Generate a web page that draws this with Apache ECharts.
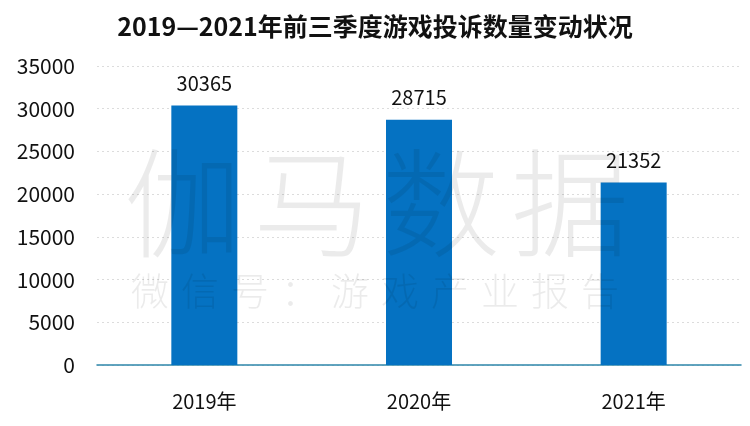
<!DOCTYPE html>
<html>
<head>
<meta charset="utf-8">
<script src="https://cdn.jsdelivr.net/npm/echarts@6/dist/echarts.min.js"></script>
<style>html,body{margin:0;padding:0;background:#fff}#c{width:750px;height:426px}</style>
</head>
<body>
<div id="c"></div>
<script>
const categories = ['2019年', '2020年', '2021年'];
const complaints = [30365, 28715, 21352];
const yTicks = [0, 5000, 10000, 15000, 20000, 25000, 30000, 35000];
const titleText = '2019—2021年前三季度游戏投诉数量变动状况';
const watermarkBig = ['伽', '马', '数', '据'];
const watermarkSmall = ['微', '信', '号', '：', '游', '戏', '产', '业', '报', '告'];

const FONT = '"Noto Sans CJK SC", "Noto Sans", sans-serif';
const chart = echarts.init(document.getElementById('c'));

const graphics = [];
watermarkBig.forEach((ch, i) => {
  graphics.push({
    type: 'text', z: 100,
    x: 183 + i * 129, y: 203,
    style: { text: ch, fontSize: 118, fontWeight: 300, fontFamily: FONT, fill: 'rgba(0,0,0,0.08)', align: 'center', verticalAlign: 'middle' }
  });
});
watermarkSmall.forEach((ch, i) => {
  graphics.push({
    type: 'text', z: 100,
    x: 150 + i * 50, y: 291,
    style: { text: ch, fontSize: 38, fontWeight: 300, fontFamily: FONT, fill: 'rgba(0,0,0,0.08)', align: 'center', verticalAlign: 'middle' }
  });
});

chart.setOption({
  backgroundColor: '#fff',
  animation: false,
  textStyle: { fontFamily: FONT },
  title: {
    text: titleText, left: 'center', top: 9,
    textStyle: { fontSize: 25, fontWeight: 'bold', color: '#111', fontFamily: FONT }
  },
  grid: { left: 97, right: 9, top: 66, bottom: 61 },
  xAxis: {
    type: 'category', data: categories,
    axisLine: { lineStyle: { color: '#2E86AB', width: 1.5 } },
    axisTick: { show: false },
    axisLabel: { fontSize: 20, color: '#111', margin: 26, fontFamily: FONT }
  },
  yAxis: {
    type: 'value', min: yTicks[0], max: yTicks[yTicks.length - 1], interval: 5000,
    axisLine: { show: false }, axisTick: { show: false },
    axisLabel: { fontSize: 21, color: '#111', margin: 22, fontFamily: FONT, formatter: v => String(v) },
    splitLine: { lineStyle: { color: '#dcdcdc', type: [2, 3], width: 1 } }
  },
  series: [{
    type: 'bar', data: complaints, barWidth: 66,
    itemStyle: { color: '#0572C2' },
    label: { show: true, position: 'top', distance: 12, fontSize: 20, color: '#111', fontFamily: FONT }
  }],
  graphic: graphics
});
</script>
</body>
</html>
